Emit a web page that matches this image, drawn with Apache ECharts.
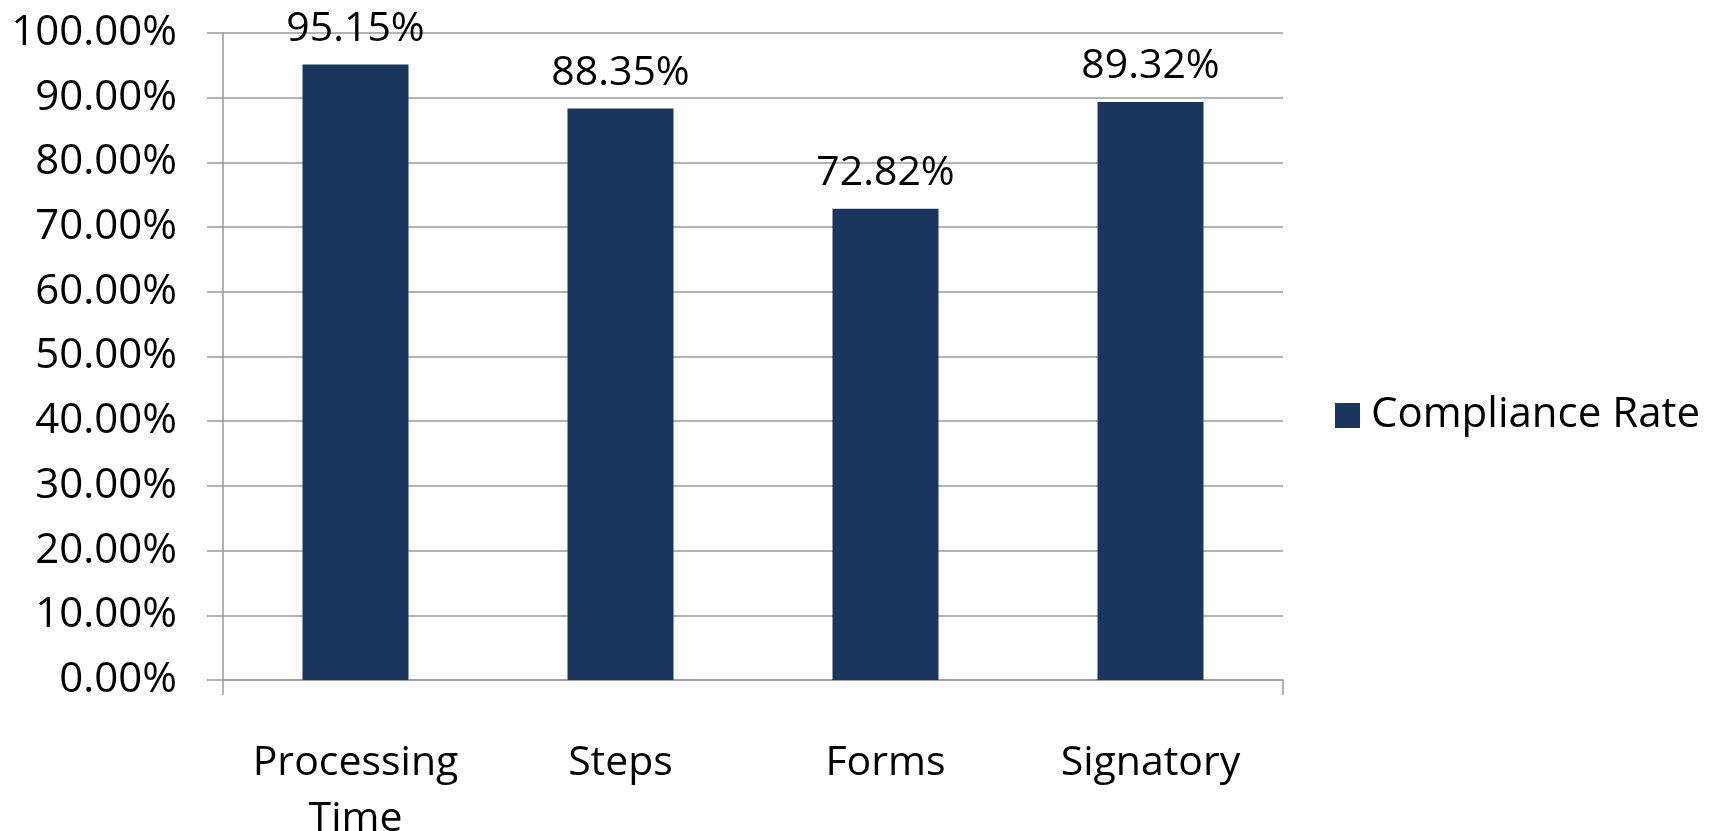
<!DOCTYPE html>
<html>
<head>
<meta charset="utf-8">
<script src="https://cdn.jsdelivr.net/npm/echarts@6/dist/echarts.min.js"></script>
<style>html,body{margin:0;padding:0;background:#fff}#c{width:1715px;height:831px}</style>
</head>
<body>
<div id="c"></div>
<script>
const categories = ['Processing\nTime', 'Steps', 'Forms', 'Signatory'];
const seriesName = 'Compliance Rate';
const values = [95.15, 88.35, 72.82, 89.32];
const yMin = 0, yMax = 100, yInterval = 10;

const FONT = '"Open Sans", "Noto Sans", sans-serif';
const chart = echarts.init(document.getElementById('c'), null, {renderer: 'canvas'});
chart.setOption({
  backgroundColor: '#ffffff',
  animation: false,
  grid: {left: 223, right: 432, top: 33, bottom: 151, containLabel: false, outerBoundsMode: 'none'},
  legend: {
    data: [seriesName],
    orient: 'vertical',
    left: 1330, top: 'middle',
    itemWidth: 25, itemHeight: 25, itemGap: 10,
    icon: 'rect',
    textStyle: {fontFamily: FONT, fontSize: 42, color: '#000', padding: [0,0,0,6]}
  },
  xAxis: {
    type: 'category',
    data: categories,
    axisLine: {show: true, lineStyle: {color: '#9a9a9a', width: 1.5}},
    axisTick: {show: true, length: 15, interval: function(i){ return i === 0; }, lineStyle: {color: '#9a9a9a', width: 1.5}},
    axisLabel: {fontFamily: FONT, fontSize: 41, color: '#000', margin: 55, lineHeight: 56, interval: 0}
  },
  yAxis: {
    type: 'value',
    min: yMin, max: yMax, interval: yInterval,
    axisLine: {show: true, lineStyle: {color: '#9a9a9a', width: 1.5}},
    axisTick: {show: true, length: 16, lineStyle: {color: '#9a9a9a', width: 1.5}},
    splitLine: {show: true, lineStyle: {color: '#9a9a9a', width: 1.5}},
    axisLabel: {fontFamily: FONT, fontSize: 42, color: '#000', margin: 46,
      formatter: v => v.toFixed(2) + '%'}
  },
  series: [{
    name: seriesName,
    type: 'bar',
    data: values,
    barWidth: '40%',
    itemStyle: {color: '#1b365d'},
    label: {show: true, position: 'top', distance: 15, fontFamily: FONT, fontSize: 41, color: '#000',
      formatter: p => p.value.toFixed(2) + '%'}
  }]
});
</script>
</body>
</html>
